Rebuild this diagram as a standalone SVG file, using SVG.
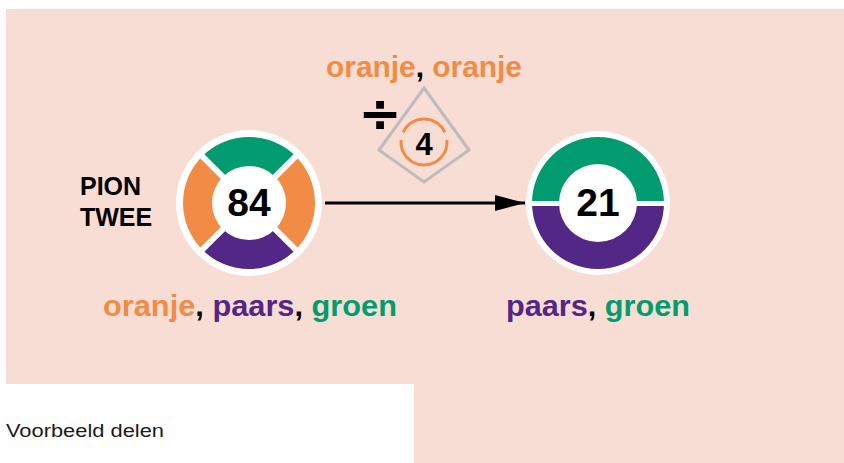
<svg xmlns="http://www.w3.org/2000/svg" width="844" height="463" viewBox="0 0 844 463">
<defs>
<style>
.b{font-family:"Liberation Sans",Arial,sans-serif;font-weight:bold}
.or{fill:#f18b45}.pu{fill:#532785}.gr{fill:#009c6f}.bk{fill:#000}
.gap{stroke:#fff;stroke-width:6}
</style>
<marker id="ah" viewBox="0 0 30 16" refX="30" refY="8" markerWidth="30" markerHeight="16" markerUnits="userSpaceOnUse" orient="auto">
<path d="M0,0 L30,8 L0,16 Z" fill="#000"/>
</marker>
</defs>
<rect width="844" height="463" fill="#fff"/>
<path d="M6,9 H844 V463 H414 V384 H6 Z" fill="#f8ddd4"/>
<text x="6" y="437" font-family="Liberation Sans,Arial,sans-serif" font-size="18" fill="#1a1a1a" textLength="158" lengthAdjust="spacingAndGlyphs">Voorbeeld delen</text>

<g id="connectors">
<line x1="325" y1="203" x2="525" y2="203" stroke="#000" stroke-width="3" marker-end="url(#ah)"/>
</g>

<g id="label-pion">
<text class="b bk" x="80" y="195" font-size="25">PION</text>
<text class="b bk" x="80" y="226" font-size="25">TWEE</text>
</g>

<g id="node-84">
<circle cx="249" cy="203" r="73" fill="#fff"/>
<path class="gr" d="M202.33,156.33 A66,66 0 0 1 295.67,156.33 L275.16,176.84 A37,37 0 0 0 222.84,176.84 Z"/>
<path class="or" d="M295.67,156.33 A66,66 0 0 1 295.67,249.67 L275.16,229.16 A37,37 0 0 0 275.16,176.84 Z"/>
<path class="pu" d="M295.67,249.67 A66,66 0 0 1 202.33,249.67 L222.84,229.16 A37,37 0 0 0 275.16,229.16 Z"/>
<path class="or" d="M202.33,249.67 A66,66 0 0 1 202.33,156.33 L222.84,176.84 A37,37 0 0 0 222.84,229.16 Z"/>
<line class="gap" x1="199" y1="153" x2="299" y2="253"/>
<line class="gap" x1="299" y1="153" x2="199" y2="253"/>
<text class="b bk" x="249" y="216" font-size="39" text-anchor="middle">84</text>
<text class="b" x="250" y="316" font-size="29" text-anchor="middle" textLength="294" lengthAdjust="spacingAndGlyphs"><tspan class="or">oranje</tspan><tspan class="bk">, </tspan><tspan class="pu">paars</tspan><tspan class="bk">, </tspan><tspan class="gr">groen</tspan></text>
</g>

<g id="node-21">
<circle cx="598" cy="203" r="72" fill="#fff"/>
<path class="gr" d="M532,203 A66,66 0 0 1 664,203 L637,203 A39,39 0 0 0 559,203 Z"/>
<path class="pu" d="M664,203 A66,66 0 0 1 532,203 L559,203 A39,39 0 0 0 637,203 Z"/>
<line x1="528" y1="203.5" x2="668" y2="203.5" stroke="#fff" stroke-width="5"/>
<text class="b bk" x="598" y="216" font-size="39" text-anchor="middle">21</text>
<text class="b" x="598" y="316" font-size="29" text-anchor="middle" textLength="184" lengthAdjust="spacingAndGlyphs"><tspan class="pu">paars</tspan><tspan class="bk">, </tspan><tspan class="gr">groen</tspan></text>
</g>

<g id="operation">
<text class="b or" x="424" y="77" font-size="29" text-anchor="middle" textLength="196" lengthAdjust="spacingAndGlyphs">oranje<tspan class="bk">,</tspan> oranje</text>
<text x="380" y="131" font-family="DejaVu Sans,sans-serif" font-weight="bold" font-size="52" text-anchor="middle" fill="#000">÷</text>
<polygon points="424,88 469,150 424,182 379,150" fill="none" stroke="#bcbcbc" stroke-width="3"/>
<path d="M403.16,132.27 A23,23 0 0 1 444.84,132.27" fill="none" stroke="#f18b45" stroke-width="3"/>
<path d="M446.91,140 A23,23 0 1 1 401.09,140" fill="none" stroke="#f18b45" stroke-width="3"/>
<text class="b bk" x="424" y="155" font-size="31" text-anchor="middle">4</text>
</g>
</svg>
